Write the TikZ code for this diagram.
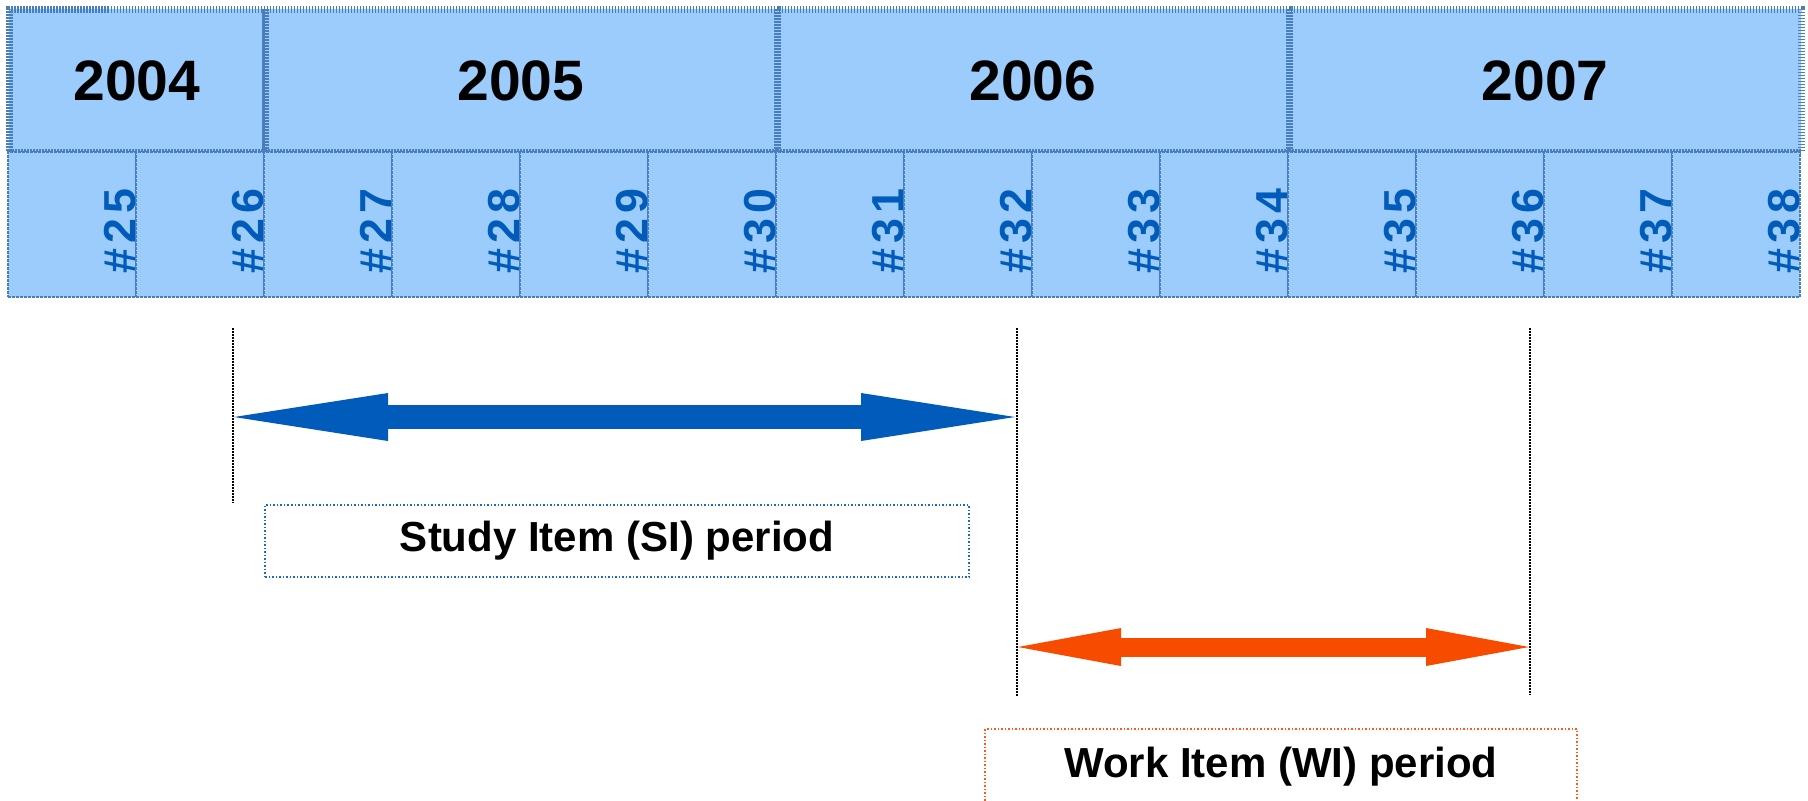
\documentclass[tikz,border=0pt]{standalone}
\usepackage{fontspec}
\setmainfont{Liberation Sans}
\newfontfamily\lblfont[LetterSpace=12]{Liberation Sans}
\usetikzlibrary{positioning,arrows.meta}

\definecolor{cellblue}{HTML}{9CCCFC}
\definecolor{frameblue}{HTML}{4A7EBB}
\definecolor{textblue}{HTML}{005BBB}
\definecolor{siblue}{HTML}{005BBB}
\definecolor{siline}{HTML}{1F68C8}
\definecolor{wiorange}{HTML}{F74B00}
\definecolor{wiline}{HTML}{FF5A1A}

\tikzset{
  yearbox/.style={draw=frameblue, fill=cellblue, line width=3.5pt, dash pattern=on 0.75pt off 0.75pt, minimum height=71.5pt, outer sep=0pt, inner sep=0pt, font=\fontsize{28.5}{30}\selectfont\bfseries},
  mcell/.style={draw=frameblue, fill=cellblue, line width=0.75pt, dash pattern=on 1.5pt off 0.5pt, minimum width=64pt, minimum height=72.5pt, outer sep=0pt, inner sep=0pt},
  mlabel/.style={anchor=base west, rotate=90, inner sep=0pt, text=textblue, font=\lblfont\fontsize{22.4}{24}\selectfont\bfseries},
  marker/.style={black, line width=1pt, dash pattern=on 1pt off 0.5pt},
  period/.style={line width=0.75pt, densely dotted, fill=white, inner sep=0pt, font=\fontsize{21}{24}\selectfont\bfseries},
  siarrow/.style={siblue, line width=12pt, {Triangle[length=77pt,width=24pt,line width=0pt]}-{Triangle[length=77pt,width=24pt,line width=0pt]}},
  wiarrow/.style={wiorange, line width=9.5pt, {Triangle[length=51.5pt,width=19pt,line width=0pt]}-{Triangle[length=51.5pt,width=19pt,line width=0pt]}},
}

\begin{document}
\begin{tikzpicture}[x=0.5pt,y=0.5pt,yscale=-1,xscale=1]
    \useasboundingbox (0,0) rectangle (1808,800);

    % years
    \node[yearbox, minimum width=128pt] (y2004) at (137,80.5) {2004};
    \node[yearbox, minimum width=256pt, right=0pt of y2004] (y2005) {2005};
    \node[yearbox, minimum width=256pt, right=0pt of y2005] (y2006) {2006};
    \node[yearbox, minimum width=256pt, right=0pt of y2006] (y2007) {2007};

    % meetings
    \foreach \n [count=\i from 0] in {25,...,38} {
        \node[mcell] (m\n) at (72+128*\i,224.5) {};
        \node[mlabel] (l\n) at (135+128*\i,274) {\#\n};
    }

    % period limits
    \coordinate (siA) at (233,328);
    \coordinate (siB) at (233,503);
    \coordinate (wiA) at (1017,328);
    \coordinate (wiB) at (1017,696);
    \coordinate (endA) at (1530,328);
    \coordinate (endB) at (1530,695);
    \draw[marker] (siA) -- (siB);
    \draw[marker] (wiA) -- (wiB);
    \draw[marker] (endA) -- (endB);

    % study item
    \coordinate (siL) at (234,417);
    \coordinate (siR) at (1015,417);
    \draw[siarrow] (siL) -- (siR);
    \node[period, draw=siline, minimum width=352pt, minimum height=36pt] (si) at (617,541) {Study Item (SI) period};

    % work item
    \coordinate (wiL) at (1018,647);
    \coordinate (wiR) at (1529,647);
    \draw[wiarrow] (wiL) -- (wiR);
    \node[period, draw=wiline, minimum width=296pt, minimum height=38pt] (wi) at (1281,767) {Work Item (WI) period};
\end{tikzpicture}
\end{document}
